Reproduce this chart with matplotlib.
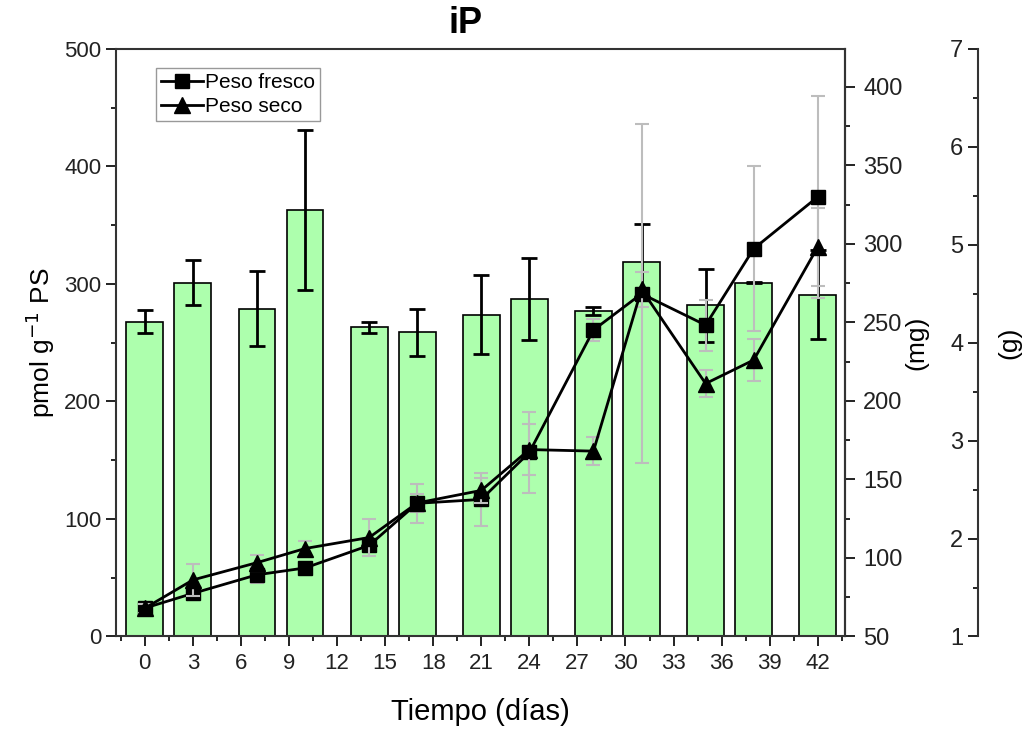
import numpy as np
import matplotlib
matplotlib.use("Agg")
import matplotlib.pyplot as plt
from matplotlib.ticker import MultipleLocator
from matplotlib.lines import Line2D

plt.rcParams['font.family'] = ['Liberation Sans', 'DejaVu Sans']

# days of sampling
dias = [0, 3, 7, 10, 14, 17, 21, 24, 28, 31, 35, 38, 42]

# iP content (pmol g-1 PS), bars
ip = [268, 301, 279, 363, 263, 259, 274, 287, 277, 319, 282, 301, 291]
ip_err = [10, 19, 32, 68, 5, 20, 34, 35, 3, 32, 31, 0.5, 38]

# fresh weight (g), squares
fresco = [1.29, 1.44, 1.63, 1.70, 1.93, 2.36, 2.40, 2.88, 4.13, 4.50, 4.18, 4.96, 5.49]
fresco_err = [0.05, 0.06, 0.08, 0.05, 0.06, 0.20, 0.27, 0.41, 0.11, 1.73, 0.26, 0.84, 1.03]

# dry weight (mg), triangles
seco = [68, 86, 97, 106, 113, 135, 143, 169, 168, 271, 211, 226, 298]
seco_err = [3, 10, 5, 4.5, 11.5, 6, 8, 16, 9, 11, 8.6, 13.4, 25]

fig = plt.figure(figsize=(10.29, 7.29), dpi=100)
ax = fig.add_axes([0.1127, 0.1269, 0.7085, 0.8059])

# bars with black error bars
ax.bar(dias, ip, width=2.3, color='#adffad', edgecolor='black', linewidth=1.2, zorder=1)
ax.errorbar(dias, ip, yerr=ip_err, fmt='none', ecolor='black', elinewidth=2,
            capsize=6, capthick=2, zorder=2)

ax.set_xlim(-1.8, 43.7)
ax.set_ylim(0, 500)
ax.xaxis.set_major_locator(MultipleLocator(3))
ax.xaxis.set_minor_locator(MultipleLocator(1.5))
ax.yaxis.set_major_locator(MultipleLocator(100))
ax.yaxis.set_minor_locator(MultipleLocator(50))
ax.tick_params(axis='both', which='major', direction='out', length=7, width=1.4, labelsize=16, colors='#222222')
ax.tick_params(axis='both', which='minor', direction='out', length=3.5, width=1.2)
ax.tick_params(axis='x', which='major', pad=5)
for s in ax.spines.values():
    s.set_linewidth(1.5)
    s.set_color('#333333')

ax.set_ylabel('pmol g$^{-1}$ PS', fontsize=19)
ax.yaxis.set_label_coords(-0.104, 0.5)
ax.yaxis.label.set_va('center')
ax.set_xlabel('Tiempo (días)', fontsize=21)
ax.xaxis.set_label_coords(0.5, -0.1285)
ax.xaxis.label.set_va('center')

# fresh weight axis (g) - placed further right, labels on its left side
ax_g = ax.twinx()
ax_g.set_ylim(1, 7)
ax_g.yaxis.tick_left()
ax_g.spines['left'].set_position(('axes', 1.1824))
ax_g.spines['left'].set_visible(True)
ax_g.spines['left'].set_linewidth(1.5)
ax_g.spines['left'].set_color('#333333')
for s in ['top', 'bottom', 'right']:
    ax_g.spines[s].set_visible(False)
ax_g.yaxis.set_major_locator(MultipleLocator(1))
ax_g.yaxis.set_minor_locator(MultipleLocator(0.5))
ax_g.tick_params(axis='y', which='major', direction='out', length=7, width=1.4, labelsize=17, colors='#222222')
ax_g.tick_params(axis='y', which='minor', direction='out', length=3.5, width=1.2)
ax_g.set_ylabel('(g)', fontsize=19)
ax_g.yaxis.set_label_coords(1.226, 0.5)
ax_g.yaxis.label.set_va('center')

ax_g.errorbar(dias, fresco, yerr=fresco_err, fmt='none', ecolor='#bdbdbd', elinewidth=1.5,
              capsize=5, capthick=1.5, zorder=2)
ax_g.plot(dias, fresco, color='black', linewidth=2, marker='s', markersize=10, zorder=3)

# dry weight axis (mg)
ax_mg = ax.twinx()
ax_mg.set_ylim(50, 424)
ax_mg.spines['right'].set_linewidth(1.5)
ax_mg.spines['right'].set_color('#333333')
for s in ['top', 'bottom', 'left']:
    ax_mg.spines[s].set_visible(False)
ax_mg.yaxis.set_major_locator(MultipleLocator(50))
ax_mg.yaxis.set_minor_locator(MultipleLocator(25))
ax_mg.tick_params(axis='y', which='major', direction='out', length=7, width=1.4, labelsize=17,
                  colors='#222222', pad=6)
ax_mg.tick_params(axis='y', which='minor', direction='out', length=3.5, width=1.2)
ax_mg.set_ylabel('(mg)', fontsize=19)
ax_mg.yaxis.set_label_coords(1.098, 0.5)
ax_mg.yaxis.label.set_va('center')

ax_mg.errorbar(dias, seco, yerr=seco_err, fmt='none', ecolor='#bdbdbd', elinewidth=1.5,
               capsize=5, capthick=1.5, zorder=2)
ax_mg.plot(dias, seco, color='black', linewidth=2, marker='^', markersize=11, zorder=3)

handles = [Line2D([], [], color='black', linewidth=2, marker='s', markersize=10),
           Line2D([], [], color='black', linewidth=2, marker='^', markersize=11)]
leg = ax_mg.legend(handles, ['Peso fresco', 'Peso seco'], loc='upper left',
                   bbox_to_anchor=(0.055, 0.968), fontsize=15, fancybox=False,
                   edgecolor='#999999', framealpha=1, handlelength=2.0,
                   handletextpad=0.1, borderpad=0.25, labelspacing=0.25, borderaxespad=0)
leg.get_frame().set_linewidth(1)

fig.text(0.452, 0.968, 'iP', fontsize=26, fontweight='bold', ha='center', va='center')

fig.savefig('out.png', dpi=100)
